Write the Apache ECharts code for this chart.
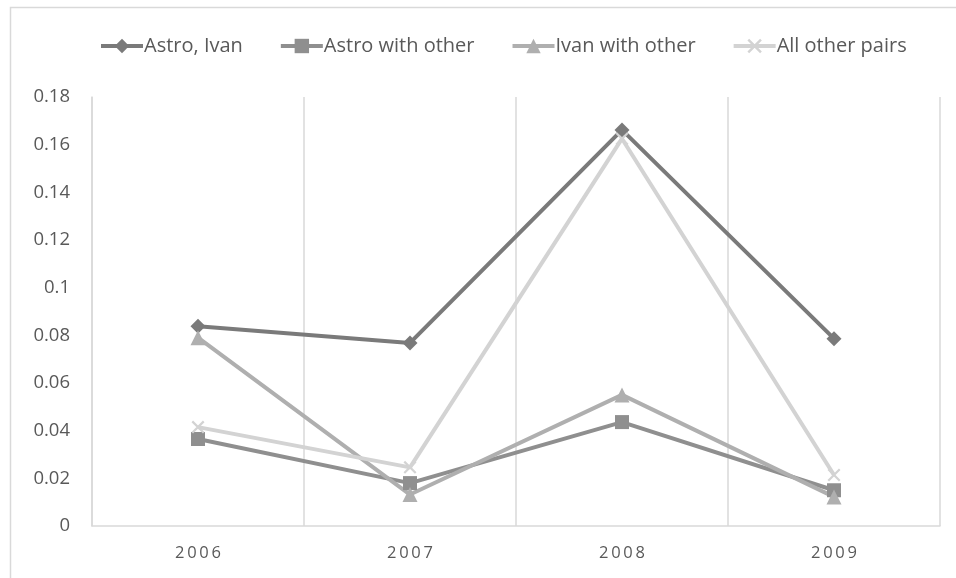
<!DOCTYPE html>
<html>
<head>
<meta charset="utf-8">
<script src="https://cdn.jsdelivr.net/npm/echarts@6/dist/echarts.min.js"></script>
<style>
  html, body { margin: 0; padding: 0; background: #ffffff; }
  #chart { width: 956px; height: 578px; }
</style>
</head>
<body>
<div id="chart"></div>
<script>
// Years on the category axis
var years = ['2006', '2007', '2008', '2009'];

// Series values per year
var astroIvan = [0.0838, 0.0768, 0.1662, 0.0786];
var astroWithOther = [0.0365, 0.0180, 0.0436, 0.0150];
var ivanWithOther = [0.0790, 0.0132, 0.0550, 0.0122];
var allOtherPairs = [0.0415, 0.0246, 0.1625, 0.0214];

// Value axis tick settings
var yMin = 0, yMax = 0.18, yStep = 0.02;

var seriesNames = ['Astro, Ivan', 'Astro with other', 'Ivan with other', 'All other pairs'];

var textColor = '#595959';
var gridColor = '#d9d9d9';
var fontFamily = '"Open Sans", "Noto Sans", sans-serif';

// A filled "x" shape for the last series' markers
var crossPath = 'path://M0,1.2L1.2,0L10,8.8L8.8,10Z M8.8,0L10,1.2L1.2,10L0,8.8Z';

function lineSeries(name, data, color, symbol, size) {
  return {
    name: name,
    type: 'line',
    data: data,
    symbol: symbol,
    symbolSize: size,
    showAllSymbol: true,
    lineStyle: { color: color, width: 4 },
    itemStyle: { color: color, borderWidth: 0 },
    emphasis: { disabled: true },
    animation: false
  };
}

var chart = echarts.init(document.getElementById('chart'), null, { renderer: 'canvas' });

chart.setOption({
  backgroundColor: '#ffffff',
  animation: false,
  graphic: [{
    type: 'rect',
    shape: { x: 10.5, y: 7.5, width: 1200, height: 1200 },
    style: { fill: 'none', stroke: gridColor, lineWidth: 1.5 },
    silent: true,
    z: 0
  }],
  legend: {
    data: seriesNames,
    top: 31,
    left: 94,
    itemWidth: 42,
    itemHeight: 18,
    itemGap: 36,
    lineStyle: { width: 4 },
    textStyle: { color: textColor, fontSize: 20, fontFamily: fontFamily, padding: [0, 0, 0, -4] }
  },
  grid: { left: 92, right: 16, top: 97, bottom: 52, containLabel: false },
  xAxis: {
    type: 'category',
    data: years,
    boundaryGap: true,
    axisLine: { show: true, lineStyle: { color: gridColor, width: 1.5 } },
    axisTick: { show: false },
    splitLine: { show: true, lineStyle: { color: gridColor, width: 1.5 } },
    axisLabel: {
      color: textColor,
      fontSize: 16.5,
      fontFamily: fontFamily,
      margin: 19,
      formatter: function (v) { return v.split('').join('\u2009'); }
    }
  },
  yAxis: {
    type: 'value',
    min: yMin,
    max: yMax,
    interval: yStep,
    axisLine: { show: true, lineStyle: { color: gridColor, width: 1.5 } },
    axisTick: { show: false },
    splitLine: { show: false },
    axisLabel: {
      color: textColor,
      fontSize: 18.5,
      fontFamily: fontFamily,
      margin: 22,
      formatter: function (v) { return String(Math.round(v * 100) / 100); }
    }
  },
  series: [
    lineSeries(seriesNames[0], astroIvan, '#7a7a7a', 'diamond', 15),
    lineSeries(seriesNames[1], astroWithOther, '#8f8f8f', 'rect', 14),
    lineSeries(seriesNames[2], ivanWithOther, '#afafaf', 'triangle', 15),
    lineSeries(seriesNames[3], allOtherPairs, '#d3d3d3', crossPath, 13)
  ]
});
</script>
</body>
</html>
